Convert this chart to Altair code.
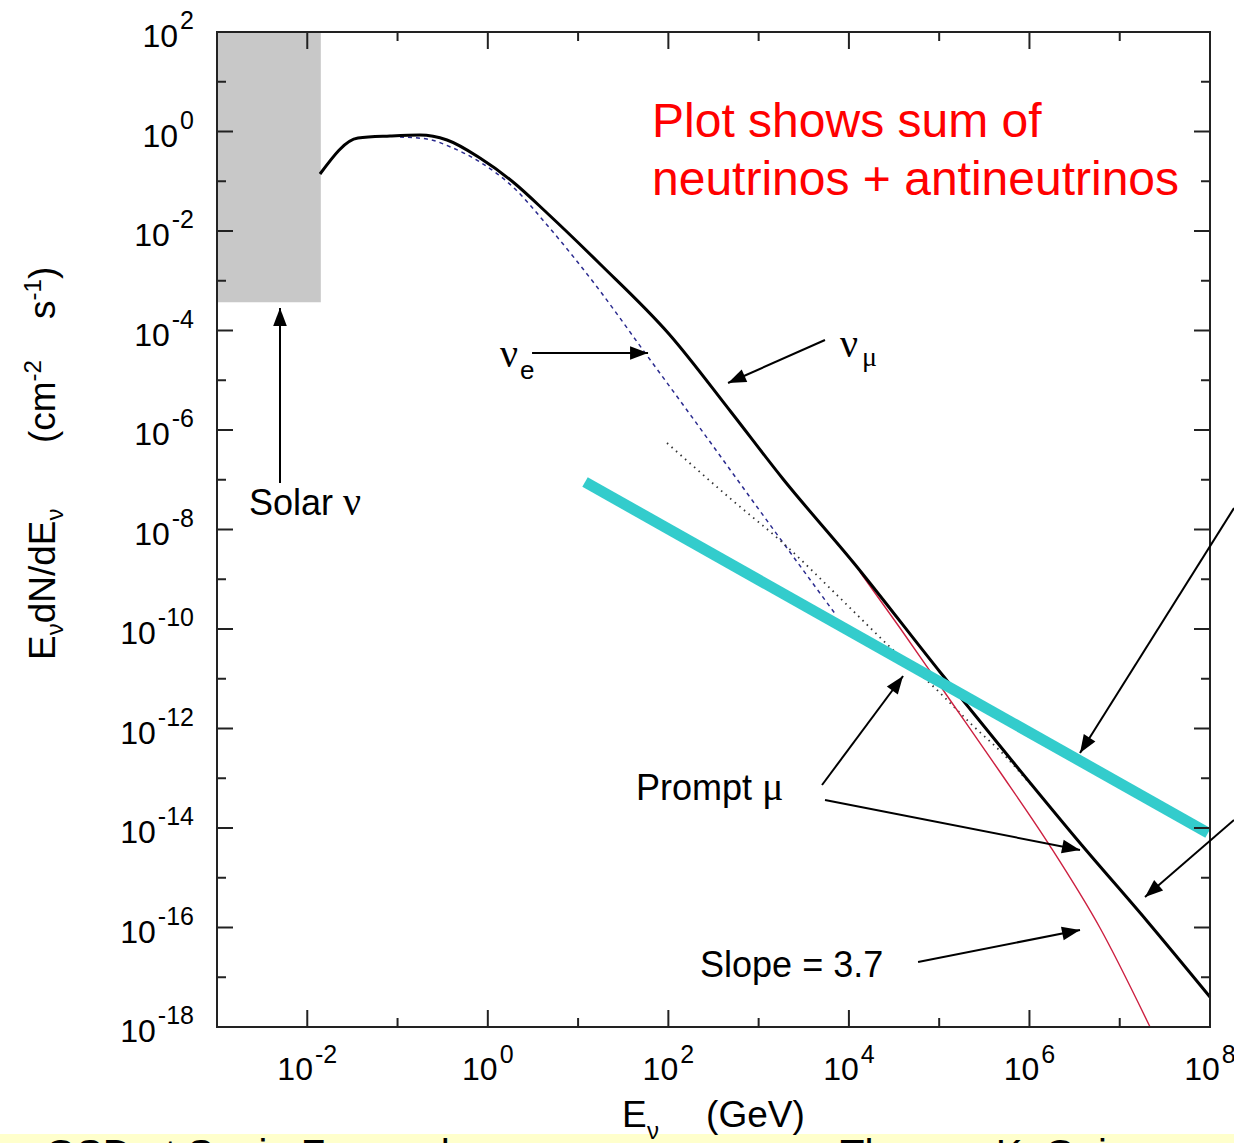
import math
import pandas as pd
import altair as alt

# ---------------- axis frame (log10 units) ----------------
X_MIN, X_MAX = -3, 8
Y_MIN, Y_MAX = -18, 2
W, H = 993, 995
PXX = W / (X_MAX - X_MIN)
PXY = H / (Y_MAX - Y_MIN)

# ---------------- curves (log10 E [GeV], log10 E dN/dE) ----------------
numu_logE = [-1.859, -1.438, -1.084, -0.751, -0.452, -0.087, 0.279, 0.656, 1.243,
             2.007, 2.694, 3.270, 4.045, 5.009, 5.818, 6.560, 7.302, 8.000]
numu_logF = [-0.854, -0.131, -0.090, -0.070, -0.171, -0.533, -1.015, -1.638, -2.663,
             -4.070, -5.638, -6.985, -8.653, -10.864, -12.673, -14.302, -15.869, -17.397]

nue_logE = [-0.973, -0.674, -0.386, -0.087, 0.279, 0.656, 1.210, 1.719, 2.229, 3.015, 3.857]
nue_logF = [-0.111, -0.151, -0.332, -0.613, -1.116, -1.879, -3.126, -4.392, -5.658, -7.628, -9.719]

dot_logE = [1.985, 2.705, 3.270, 3.890, 4.455, 4.976, 5.342, 5.752, 6.006]
dot_logF = [-6.261, -7.407, -8.271, -9.357, -10.362, -11.226, -11.889, -12.593, -13.116]

conv_logE = [4.123, 4.566, 5.120, 5.674, 6.228, 6.782, 7.336]
conv_logF = [-8.854, -9.980, -11.427, -12.874, -14.362, -16.010, -18.000]

astro_logE = [1.077, 7.978]
astro_logF = [-7.045, -14.101]

solar_logE = [-3.0, -1.85]
solar_logF = [-3.43, 2.0]

# ---------------- tick labels ----------------
xtick_major = [-2, 0, 2, 4, 6, 8]
ytick_major = [2, 0, -2, -4, -6, -8, -10, -12, -14, -16, -18]

# ---------------- annotations (log10 coordinates) ----------------
arrow_start_logE = [-2.302, 0.490, 3.735, 3.702, 3.735, 4.766, 8.266, 8.266]
arrow_start_logF = [-7.065, -4.452, -4.191, -13.136, -13.437, -16.693, -7.568, -13.839]
arrow_tip_logE = [-2.302, 1.775, 2.661, 4.600, 6.560, 6.560, 6.560, 7.280]
arrow_tip_logF = [-3.548, -4.452, -5.055, -10.945, -14.442, -16.050, -12.492, -15.387]

note_red = ["Plot shows sum of", "neutrinos + antineutrinos"]
footer_left = "GSD at Sanjo Fernando"
footer_right = "Thomas K. Gaisser"

# ---------------- helpers ----------------
AW = {c: 0.556 for c in "0123456789"}
AW.update({'-': 0.333, ' ': 0.278, 'E': 0.667, 'd': 0.556, 'N': 0.722, '/': 0.278,
           '(': 0.333, ')': 0.333, 'c': 0.5, 'm': 0.833, 's': 0.5, 'S': 0.667, 'o': 0.556,
           'l': 0.222, 'a': 0.556, 'r': 0.333, 'P': 0.667, 'p': 0.556, 't': 0.278})


def tw(s, size):
    return sum(AW.get(ch, 0.556) for ch in s) * size


xs = alt.Scale(type='log', domain=[10.0 ** X_MIN, 10.0 ** X_MAX], nice=False)
ys = alt.Scale(type='log', domain=[10.0 ** Y_MIN, 10.0 ** Y_MAX], nice=False)


def X(f):
    return alt.X(f + ':Q', scale=xs, axis=None)


def Y(f):
    return alt.Y(f + ':Q', scale=ys, axis=None)


def pos(lx, ly, dx=0.0, dy=0.0):
    return 10 ** (lx + dx / PXX), 10 ** (ly - dy / PXY)


def row(lx, ly, t, s, dx=0.0, dy=0.0):
    e, f = pos(lx, ly, dx, dy)
    return {'E': e, 'F': f, 't': t, 's': s}


def txt(rows, font='Liberation Sans', color='black', align='left', angle=0):
    return alt.Chart(pd.DataFrame(rows)).mark_text(
        font=font, color=color, align=align, baseline='alphabetic', angle=angle
    ).encode(x=X('E'), y=Y('F'), text='t:N', size=alt.Size('s:Q', scale=None))


def curve(lxs, lys):
    return pd.DataFrame({'E': [10 ** v for v in lxs], 'F': [10 ** v for v in lys]})


layers = []

# footer strip
strip = pd.DataFrame({'E': [10 ** -5.6], 'E2': [10 ** 8.6], 'F': [10 ** -20.15], 'F2': [10 ** -20.7]})
layers.append(alt.Chart(strip).mark_rect(color='#ffffcc').encode(
    x=X('E'), x2='E2', y=Y('F'), y2='F2'))

# solar box
solar = pd.DataFrame({'E': [10 ** solar_logE[0]], 'E2': [10 ** solar_logE[1]],
                      'F': [10 ** solar_logF[0]], 'F2': [10 ** solar_logF[1]]})
layers.append(alt.Chart(solar).mark_rect(color='#c8c8c8').encode(
    x=X('E'), x2='E2', y=Y('F'), y2='F2'))

# curves
layers.append(alt.Chart(curve(nue_logE, nue_logF)).mark_line(
    color='#2b2b8f', strokeWidth=1.5, strokeDash=[4, 4], interpolate='monotone').encode(
    x=X('E'), y=Y('F')))
layers.append(alt.Chart(curve(dot_logE, dot_logF)).mark_line(
    color='#333333', strokeWidth=1.8, strokeDash=[1.5, 4.5], interpolate='monotone').encode(
    x=X('E'), y=Y('F')))
layers.append(alt.Chart(curve(conv_logE, conv_logF)).mark_line(
    color='#cc2040', strokeWidth=1.4, interpolate='monotone').encode(
    x=X('E'), y=Y('F')))
layers.append(alt.Chart(curve(numu_logE, numu_logF)).mark_line(
    color='black', strokeWidth=3, interpolate='monotone').encode(
    x=X('E'), y=Y('F')))
layers.append(alt.Chart(curve(astro_logE, astro_logF)).mark_line(
    color='#33cccc', strokeWidth=11, strokeCap='butt').encode(
    x=X('E'), y=Y('F')))

# ticks (inside, all four sides)
tick_rows = []
for k in range(X_MIN + 1, X_MAX):
    L = 17 if k % 2 == 0 else 9
    tick_rows.append({'E': 10 ** k, 'E2': 10 ** k, 'F': 10 ** Y_MIN, 'F2': 10 ** (Y_MIN + L / PXY)})
    tick_rows.append({'E': 10 ** k, 'E2': 10 ** k, 'F': 10 ** Y_MAX, 'F2': 10 ** (Y_MAX - L / PXY)})
for k in range(Y_MIN + 1, Y_MAX):
    L = 16 if k % 2 == 0 else 9
    tick_rows.append({'E': 10 ** X_MIN, 'E2': 10 ** (X_MIN + L / PXX), 'F': 10 ** k, 'F2': 10 ** k})
    tick_rows.append({'E': 10 ** X_MAX, 'E2': 10 ** (X_MAX - L / PXX), 'F': 10 ** k, 'F2': 10 ** k})
layers.append(alt.Chart(pd.DataFrame(tick_rows)).mark_rule(color='#222222', strokeWidth=2).encode(
    x=X('E'), x2='E2', y=Y('F'), y2='F2'))

# frame
frame = pd.DataFrame({'E': [10.0 ** X_MIN], 'E2': [10.0 ** X_MAX], 'F': [10.0 ** Y_MIN], 'F2': [10.0 ** Y_MAX]})
layers.append(alt.Chart(frame).mark_rect(fill='transparent', stroke='#222222', strokeWidth=2).encode(
    x=X('E'), x2='E2', y=Y('F'), y2='F2'))

# tick labels
BASE, EXP, GAP = 32, 25, 2
lab = []
for k in xtick_major:
    e = str(k)
    w10, we = tw('10', BASE), tw(e, EXP)
    left = -(w10 + GAP + we) / 2
    lab.append(row(k, Y_MIN, '10', BASE, dx=left, dy=53))
    lab.append(row(k, Y_MIN, e, EXP, dx=left + w10 + GAP, dy=36))
layers.append(txt(lab))
laby = []
for k in ytick_major:
    e = str(k)
    we = tw(e, EXP)
    laby.append(row(X_MIN, k, e, EXP, dx=-23, dy=-3))
    laby.append(row(X_MIN, k, '10', BASE, dx=-23 - we - GAP, dy=15))
layers.append(txt(laby, align='right'))

# axis titles
xt0 = (1.487, -20.010)
layers.append(txt([row(*xt0, 'E', 37), row(*xt0, 'ν', 24, dx=25, dy=12),
                   row(*xt0, '(GeV)', 37, dx=84)]))

yt0 = (-4.795, -10.623)


def rrow(a, p, t, s):
    return {'E': 10 ** (yt0[0] + p / PXX), 'F': 10 ** (yt0[1] + a / PXY), 't': t, 's': s}


layers.append(txt([rrow(0, 0, 'E', 37), rrow(24.7, 8, 'ν', 24), rrow(36.7, 0, 'dN/dE', 37),
                   rrow(139.5, 8, 'ν', 24), rrow(217, 0, '(cm', 37), rrow(278.6, -14, '-2', 24),
                   rrow(341, 0, 's', 37), rrow(359.5, -14, '-1', 24), rrow(381, 0, ')', 37)],
                  angle=270))

# red note
layers.append(txt([row(1.819, -0.111, note_red[0], 48), row(1.819, -1.276, note_red[1], 48)],
                  color='#ff0000'))

# labels (sans)
solar0 = (-2.646, -7.709)
nue0 = (0.135, -4.734)
numu0 = (3.902, -4.533)
prompt0 = (1.642, -13.437)
slope0 = (2.351, -16.995)
layers.append(txt([row(*solar0, 'Solar', 36), row(*nue0, 'e', 26, dx=20, dy=12),
                   row(*prompt0, 'Prompt', 36), row(*slope0, 'Slope = 3.7', 36)]))
# labels (serif greek)
layers.append(txt([row(*solar0, 'ν', 40, dx=tw('Solar ', 36)), row(*nue0, 'ν', 40),
                   row(*numu0, 'ν', 40), row(*numu0, 'μ', 28, dx=22, dy=9),
                   row(*prompt0, 'μ', 40, dx=tw('Prompt ', 36))],
                  font='Liberation Serif'))

# arrows
ar = []
heads = []
for a0, b0, a1, b1 in zip(arrow_start_logE, arrow_start_logF, arrow_tip_logE, arrow_tip_logF):
    ar.append({'E': 10 ** a0, 'F': 10 ** b0, 'E2': 10 ** a1, 'F2': 10 ** b1})
    dxp = (a1 - a0) * PXX
    dyp = -(b1 - b0) * PXY
    ang = math.degrees(math.atan2(dxp, -dyp)) % 360
    heads.append({'E': 10 ** a1, 'F': 10 ** b1, 'ang': ang})
layers.append(alt.Chart(pd.DataFrame(ar)).mark_rule(color='black', strokeWidth=2).encode(
    x=X('E'), x2='E2', y=Y('F'), y2='F2'))
layers.append(alt.Chart(pd.DataFrame(heads)).mark_point(
    shape='M0,0L0.38,1L-0.38,1Z', filled=True, color='black', opacity=1, size=1296, strokeWidth=0
).encode(x=X('E'), y=Y('F'), angle=alt.Angle('ang:Q', scale=None)))

# footer text (only tops visible, as in the cropped slide)
layers.append(txt([row(-4.905, -20.834, footer_left, 40), row(3.902, -20.834, footer_right, 40)]))

chart = alt.layer(*layers).properties(
    width=W, height=H,
    autosize=alt.AutoSizeParams(type='none'),
    padding={'left': 217, 'top': 32, 'right': 24, 'bottom': 116},
    background='white',
).configure_view(strokeWidth=0)

chart.save("out.html", embed_options={"renderer": "svg", "actions": False})
